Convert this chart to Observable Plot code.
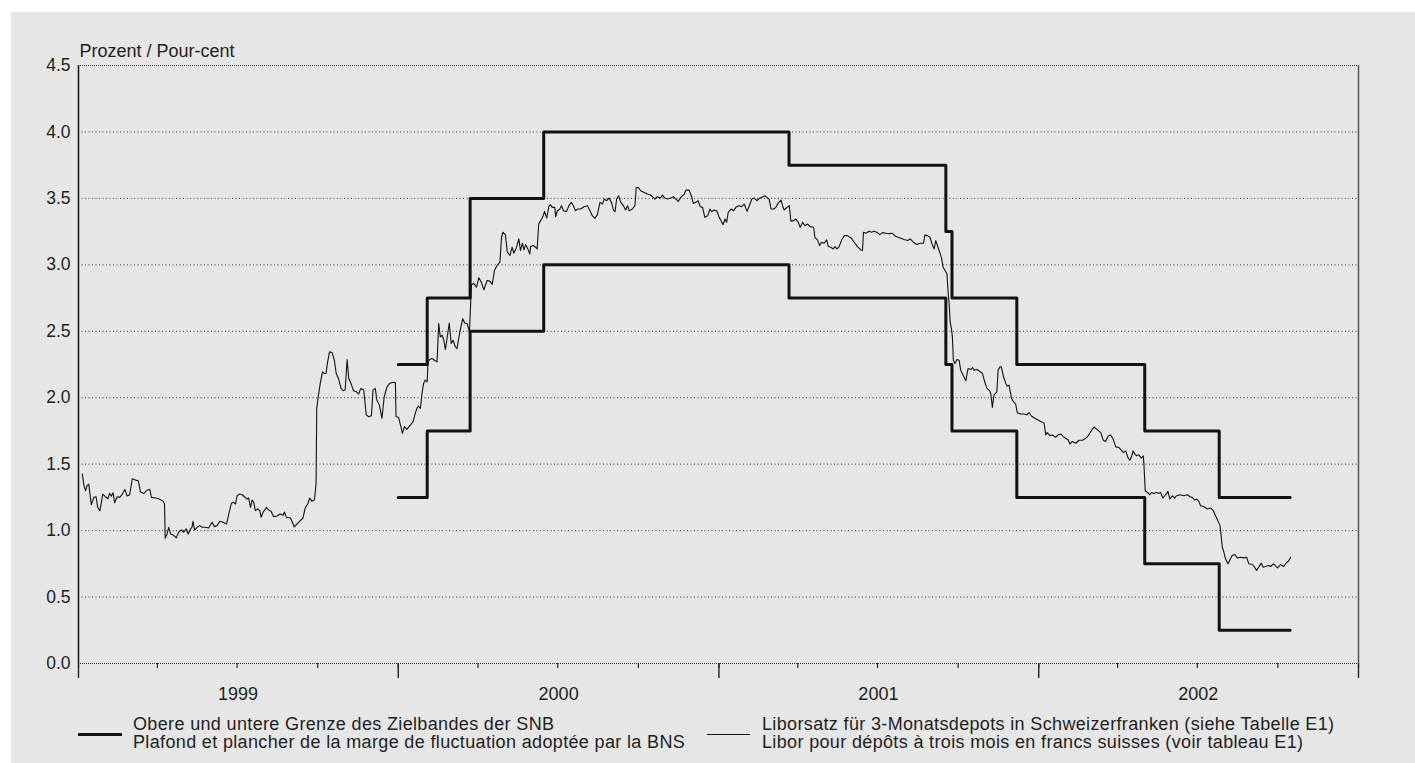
<!DOCTYPE html>
<html>
<head>
<meta charset="utf-8">
<script src="https://cdn.jsdelivr.net/npm/d3@7"></script>
<script src="https://cdn.jsdelivr.net/npm/@observablehq/plot@0.6"></script>
<style>
  html, body { margin: 0; padding: 0; background: #ffffff; }
  #panel { position: absolute; left: 11px; top: 12px; width: 1404px; height: 751px; background: #e6e6e6;
           font-family: "Liberation Sans", Arial, sans-serif; color: #1e1e1e; }
  #chart { position: absolute; left: 0; top: 0; }
  .leg { position: absolute; font-size: 18px; line-height: 18px; height: 18px; letter-spacing: 0.35px; white-space: nowrap; }
  .sym { position: absolute; border-top-style: solid; border-top-color: #111; }
</style>
</head>
<body>
<div id="panel">
  <div id="chart"></div>
  <div class="sym" style="left:67px; top:721px; width:44px; border-top-width:3px;"></div>
  <div class="leg" style="left:122px; top:703px;">Obere und untere Grenze des Zielbandes der SNB</div>
  <div class="leg" style="left:122px; top:721px;">Plafond et plancher de la marge de fluctuation adoptée par la BNS</div>
  <div class="sym" style="left:696px; top:722px; width:43px; border-top-width:1px;"></div>
  <div class="leg" style="left:751px; top:703px;">Liborsatz für 3-Monatsdepots in Schweizerfranken (siehe Tabelle E1)</div>
  <div class="leg" style="left:751px; top:721px;">Libor pour dépôts à trois mois en francs suisses (voir tableau E1)</div>
</div>
<script>
// ---------- data ----------
const yLabel = "Prozent / Pour-cent";
const yTicks = [0, 0.5, 1, 1.5, 2, 2.5, 3, 3.5, 4, 4.5];
const years = [1999, 2000, 2001, 2002];

// Target band of the SNB (dates of changes), upper and lower limits
const bandDates = ["2000-01-01", "2000-02-03", "2000-03-23", "2000-06-15", "2001-03-22", "2001-09-17",
                   "2001-09-24", "2001-12-07", "2002-05-02", "2002-07-26", "2002-10-15"];
const upperBand = [2.25, 2.75, 3.5, 4.0, 3.75, 3.25, 2.75, 2.25, 1.75, 1.25, 1.25];
const lowerBand = [1.25, 1.75, 2.5, 3.0, 2.75, 2.25, 1.75, 1.25, 0.75, 0.25, 0.25];

// 3-month CHF Libor: [decimal year, percent]
const libor = [
[1999.012,1.425],[1999.017,1.34],[1999.022,1.30],[1999.027,1.34],[1999.032,1.35],[1999.040,1.195],[1999.048,1.25],
[1999.055,1.255],[1999.060,1.175],[1999.067,1.15],[1999.076,1.275],[1999.084,1.255],[1999.092,1.24],[1999.097,1.28],
[1999.103,1.26],[1999.108,1.285],[1999.113,1.21],[1999.121,1.255],[1999.129,1.25],[1999.137,1.275],[1999.145,1.31],
[1999.152,1.26],[1999.160,1.27],[1999.168,1.39],[1999.178,1.38],[1999.187,1.375],[1999.194,1.29],[1999.204,1.28],
[1999.215,1.305],[1999.223,1.31],[1999.228,1.25],[1999.241,1.245],[1999.251,1.24],[1999.265,1.22],[1999.269,1.20],
[1999.271,0.9425],[1999.277,0.975],[1999.282,1.025],[1999.288,0.975],[1999.296,0.9675],[1999.306,0.945],[1999.313,0.9875],
[1999.322,1.005],[1999.329,0.9875],[1999.337,1.0125],[1999.343,0.975],[1999.350,1.0125],[1999.355,1.025],[1999.358,1.07],
[1999.363,1.005],[1999.371,1.025],[1999.379,1.0375],[1999.387,1.025],[1999.397,1.025],[1999.407,1.02],[1999.418,1.0625],
[1999.425,1.03],[1999.433,1.0375],[1999.442,1.07],[1999.452,1.0625],[1999.463,1.05],[1999.470,1.125],[1999.478,1.205],
[1999.485,1.2125],[1999.491,1.20],[1999.496,1.2625],[1999.503,1.275],[1999.512,1.27],[1999.519,1.255],[1999.527,1.2375],
[1999.532,1.245],[1999.538,1.175],[1999.543,1.23],[1999.548,1.2125],[1999.553,1.15],[1999.560,1.1625],[1999.567,1.15],
[1999.571,1.10],[1999.577,1.1375],[1999.588,1.175],[1999.595,1.155],[1999.602,1.145],[1999.610,1.105],[1999.621,1.11],
[1999.631,1.125],[1999.640,1.115],[1999.644,1.14],[1999.650,1.10],[1999.663,1.095],[1999.675,1.0275],[1999.688,1.0625],
[1999.702,1.095],[1999.709,1.17],[1999.717,1.2025],[1999.723,1.245],[1999.730,1.22],[1999.738,1.2325],[1999.743,1.3575],
[1999.745,1.92],[1999.749,1.995],[1999.756,2.1075],[1999.763,2.195],[1999.769,2.1825],[1999.774,2.1825],[1999.779,2.27],
[1999.785,2.345],[1999.793,2.34],[1999.800,2.2825],[1999.806,2.1825],[1999.813,2.145],[1999.821,2.07],[1999.827,2.0525],
[1999.834,2.0575],[1999.840,2.2875],[1999.845,2.145],[1999.852,2.1075],[1999.860,2.0525],[1999.869,2.045],[1999.876,2.0275],
[1999.883,2.07],[1999.892,2.0575],[1999.900,1.87],[1999.907,1.8575],[1999.916,1.865],[1999.921,2.0575],[1999.928,2.07],
[1999.933,1.9825],[1999.941,1.945],[1999.949,1.845],[1999.956,2.0075],[1999.965,2.0825],[1999.973,2.1075],[1999.980,2.115],
[1999.991,2.115],[1999.993,1.8575],[2000.001,1.8525],[2000.008,1.7825],[2000.013,1.7325],[2000.019,1.7825],[2000.027,1.7625],
[2000.038,1.795],[2000.046,1.82],[2000.053,1.8825],[2000.058,1.92],[2000.063,1.9375],[2000.069,1.92],[2000.074,2.0325],
[2000.079,2.1075],[2000.084,2.1325],[2000.090,2.12],[2000.093,2.27],[2000.098,2.2875],[2000.105,2.295],[2000.113,2.2825],
[2000.121,2.27],[2000.126,2.5575],[2000.131,2.4575],[2000.137,2.47],[2000.142,2.4325],[2000.147,2.3625],[2000.152,2.445],
[2000.159,2.5625],[2000.165,2.4075],[2000.171,2.4325],[2000.178,2.3825],[2000.183,2.37],[2000.192,2.495],[2000.201,2.595],
[2000.207,2.5625],[2000.215,2.5575],[2000.222,2.495],[2000.228,2.85],[2000.235,2.86],[2000.244,2.8325],[2000.251,2.9025],
[2000.259,2.87],[2000.267,2.8125],[2000.277,2.8825],[2000.285,2.8775],[2000.293,2.8525],[2000.300,2.9575],[2000.308,2.995],
[2000.317,3.02],[2000.322,3.2075],[2000.326,3.245],[2000.334,3.2275],[2000.340,3.095],[2000.348,3.07],[2000.355,3.1325],
[2000.360,3.0875],[2000.368,3.1275],[2000.376,3.195],[2000.381,3.1075],[2000.387,3.1625],[2000.392,3.1125],[2000.397,3.1525],
[2000.404,3.12],[2000.410,3.0825],[2000.413,3.1375],[2000.421,3.145],[2000.428,3.1325],[2000.433,3.12],[2000.438,3.3075],
[2000.444,3.3325],[2000.452,3.37],[2000.456,3.4025],[2000.463,3.3525],[2000.470,3.445],[2000.475,3.4525],[2000.480,3.4325],
[2000.488,3.4325],[2000.491,3.3625],[2000.496,3.4075],[2000.504,3.42],[2000.509,3.445],[2000.515,3.4075],[2000.525,3.4025],
[2000.532,3.445],[2000.540,3.47],[2000.546,3.445],[2000.553,3.4075],[2000.560,3.42],[2000.569,3.42],[2000.579,3.4375],
[2000.590,3.445],[2000.598,3.4075],[2000.605,3.37],[2000.613,3.35],[2000.621,3.3775],[2000.629,3.47],[2000.637,3.4575],
[2000.642,3.495],[2000.650,3.4825],[2000.657,3.5025],[2000.665,3.47],[2000.671,3.4125],[2000.676,3.40],[2000.681,3.495],
[2000.687,3.52],[2000.694,3.47],[2000.702,3.445],[2000.709,3.4125],[2000.715,3.445],[2000.720,3.4075],[2000.730,3.42],
[2000.738,3.445],[2000.742,3.5825],[2000.748,3.5825],[2000.756,3.5575],[2000.767,3.545],[2000.777,3.5325],[2000.785,3.5275],
[2000.793,3.5125],[2000.800,3.495],[2000.808,3.5125],[2000.817,3.5025],[2000.824,3.525],[2000.831,3.5025],[2000.840,3.495],
[2000.850,3.5025],[2000.858,3.5125],[2000.866,3.495],[2000.873,3.4775],[2000.881,3.5075],[2000.892,3.5325],[2000.897,3.5625],
[2000.907,3.5625],[2000.915,3.5125],[2000.920,3.4625],[2000.928,3.47],[2000.935,3.4825],[2000.942,3.4375],[2000.949,3.4325],
[2000.956,3.3575],[2000.965,3.37],[2000.972,3.42],[2000.977,3.40],[2000.985,3.4125],[2000.993,3.4075],[2001.001,3.3575],
[2001.008,3.325],[2001.013,3.3025],[2001.019,3.345],[2001.024,3.32],[2001.029,3.395],[2001.038,3.42],[2001.046,3.4075],
[2001.053,3.4325],[2001.063,3.445],[2001.071,3.4375],[2001.079,3.4575],[2001.088,3.4025],[2001.095,3.445],[2001.103,3.495],
[2001.110,3.5025],[2001.119,3.4825],[2001.126,3.50],[2001.137,3.5125],[2001.144,3.52],[2001.152,3.5025],[2001.157,3.495],
[2001.163,3.42],[2001.171,3.42],[2001.178,3.4325],[2001.185,3.4625],[2001.194,3.4875],[2001.199,3.445],[2001.204,3.4125],
[2001.213,3.4325],[2001.220,3.445],[2001.225,3.3275],[2001.233,3.3325],[2001.241,3.345],[2001.248,3.32],[2001.254,3.2825],
[2001.262,3.32],[2001.269,3.295],[2001.277,3.3075],[2001.285,3.2875],[2001.296,3.2825],[2001.300,3.2075],[2001.308,3.1875],
[2001.315,3.145],[2001.321,3.17],[2001.329,3.1625],[2001.337,3.1875],[2001.342,3.1375],[2001.350,3.1325],[2001.357,3.12],
[2001.363,3.1375],[2001.369,3.12],[2001.376,3.1375],[2001.383,3.1825],[2001.392,3.22],[2001.402,3.22],[2001.413,3.2025],
[2001.423,3.17],[2001.433,3.1375],[2001.444,3.1125],[2001.449,3.1075],[2001.452,3.245],[2001.459,3.2375],[2001.470,3.2525],
[2001.477,3.245],[2001.485,3.2525],[2001.496,3.2425],[2001.503,3.2275],[2001.512,3.2425],[2001.522,3.2375],[2001.532,3.235],
[2001.543,3.2375],[2001.553,3.2125],[2001.567,3.2025],[2001.579,3.19],[2001.590,3.1825],[2001.598,3.195],[2001.608,3.17],
[2001.619,3.1525],[2001.629,3.1625],[2001.640,3.1625],[2001.644,3.225],[2001.652,3.22],[2001.660,3.2075],[2001.668,3.145],
[2001.673,3.12],[2001.678,3.1825],[2001.685,3.1325],[2001.692,3.0825],[2001.696,3.0525],[2001.701,2.9825],[2001.707,2.9575],
[2001.713,2.9325],[2001.717,2.7825],[2001.720,2.7075],[2001.723,2.57],[2001.727,2.52],[2001.730,2.4575],[2001.733,2.2825],
[2001.738,2.2575],[2001.744,2.2875],[2001.751,2.2825],[2001.756,2.2075],[2001.765,2.1625],[2001.772,2.1275],[2001.779,2.22],
[2001.788,2.2125],[2001.793,2.2275],[2001.798,2.2075],[2001.808,2.2125],[2001.817,2.195],[2001.824,2.1825],[2001.831,2.12],
[2001.838,2.07],[2001.845,2.0575],[2001.850,2.0325],[2001.855,1.9275],[2001.860,2.02],[2001.869,2.045],[2001.873,2.2075],
[2001.879,2.2325],[2001.883,2.2325],[2001.890,2.1575],[2001.897,2.1075],[2001.902,2.0875],[2001.907,2.095],[2001.915,1.995],
[2001.921,1.97],[2001.928,1.9525],[2001.933,1.8875],[2001.944,1.8775],[2001.954,1.8775],[2001.963,1.87],[2001.970,1.8875],
[2001.977,1.8625],[2001.988,1.845],[2001.998,1.8325],[2002.008,1.82],[2002.017,1.8075],[2002.022,1.72],[2002.027,1.7375],
[2002.035,1.715],[2002.043,1.72],[2002.053,1.7025],[2002.060,1.72],[2002.069,1.7275],[2002.077,1.7075],[2002.084,1.695],
[2002.092,1.6825],[2002.098,1.6525],[2002.105,1.67],[2002.116,1.6575],[2002.126,1.68],[2002.137,1.68],[2002.144,1.69],
[2002.152,1.705],[2002.160,1.735],[2002.173,1.78],[2002.183,1.76],[2002.194,1.7375],[2002.202,1.68],[2002.209,1.67],
[2002.217,1.7125],[2002.225,1.72],[2002.233,1.6875],[2002.241,1.63],[2002.251,1.625],[2002.258,1.605],[2002.265,1.5875],
[2002.272,1.60],[2002.279,1.55],[2002.285,1.53],[2002.290,1.555],[2002.295,1.60],[2002.301,1.575],[2002.306,1.5625],
[2002.313,1.57],[2002.321,1.545],[2002.327,1.5625],[2002.329,1.50],[2002.333,1.30],[2002.340,1.2875],[2002.347,1.27],
[2002.353,1.2875],[2002.360,1.28],[2002.369,1.2875],[2002.376,1.28],[2002.381,1.2875],[2002.388,1.245],[2002.394,1.2625],
[2002.400,1.28],[2002.404,1.295],[2002.410,1.2375],[2002.418,1.2625],[2002.425,1.245],[2002.431,1.2625],[2002.442,1.27],
[2002.454,1.2625],[2002.465,1.27],[2002.473,1.255],[2002.480,1.25],[2002.488,1.23],[2002.494,1.2375],[2002.501,1.22],
[2002.506,1.1875],[2002.517,1.18],[2002.527,1.1625],[2002.538,1.17],[2002.546,1.15],[2002.553,1.1125],[2002.560,1.075],
[2002.567,1.0375],[2002.571,0.95],[2002.574,0.875],[2002.579,0.8375],[2002.584,0.7875],[2002.592,0.75],[2002.598,0.78],
[2002.605,0.8125],[2002.613,0.82],[2002.621,0.795],[2002.631,0.80],[2002.642,0.795],[2002.650,0.80],[2002.657,0.75],
[2002.668,0.745],[2002.675,0.725],[2002.681,0.70],[2002.688,0.725],[2002.696,0.755],[2002.702,0.725],[2002.709,0.73],
[2002.720,0.7375],[2002.725,0.73],[2002.734,0.75],[2002.747,0.72],[2002.756,0.745],[2002.766,0.73],[2002.775,0.76],
[2002.781,0.77],[2002.788,0.80]
];

// ---------- build ----------
const toDate = t => { const y = Math.floor(t); const a = Date.UTC(y, 0, 1), b = Date.UTC(y + 1, 0, 1); return new Date(a + (t - y) * (b - a)); };
const parse = d3.utcParse("%Y-%m-%d");
const liborRows = libor.map(([t, v]) => ({date: toDate(t), value: v}));
const bandRows = [
  ...bandDates.map((d, i) => ({date: parse(d), value: upperBand[i], side: "upper"})),
  ...bandDates.map((d, i) => ({date: parse(d), value: lowerBand[i], side: "lower"}))
];
const x0 = new Date(Date.UTC(years[0], 0, 1));
const x1 = new Date(Date.UTC(years[years.length - 1] + 1, 0, 1));
const quarterTicks = d3.utcMonth.every(3).range(x0, new Date(+x1 + 1));
const yearTicks = d3.utcYear.range(x0, new Date(+x1 + 1));
const midYears = years.map(y => new Date(Date.UTC(y, 6, 2)));

const chart = Plot.plot({
  width: 1404,
  height: 700,
  marginLeft: 67,
  marginRight: 57,
  marginTop: 53,
  marginBottom: 49,
  style: {background: "transparent", fontFamily: "'Liberation Sans', Arial, sans-serif", color: "#1e1e1e", overflow: "visible"},
  x: {type: "utc", domain: [x0, x1]},
  y: {domain: [0, 4.5]},
  marks: [
    Plot.gridY({ticks: yTicks.filter(v => v > 0 && v < 4.5), stroke: "#333", strokeOpacity: 1, strokeDasharray: "1 2.5"}),
    Plot.ruleY([0, 4.5], {stroke: "#333", strokeDasharray: "1 1"}),
    Plot.ruleX([x0], {stroke: "#111", strokeWidth: 1.5}),
    Plot.ruleX([x1], {stroke: "#555", strokeWidth: 1.5}),
    Plot.axisY({ticks: yTicks, tickSize: 0, tickPadding: 8, tickFormat: d3.format(".1f"), label: null, fontSize: 17.5}),
    Plot.axisX({ticks: quarterTicks, tickSize: 5, tickFormat: () => "", label: null, stroke: "#222", strokeWidth: 1.2}),
    Plot.axisX({ticks: yearTicks, tickSize: 15, tickFormat: () => "", label: null, stroke: "#222", strokeWidth: 1.4}),
    Plot.axisX({ticks: midYears, tickSize: 0, tickPadding: 24, tickFormat: d3.utcFormat("%Y"), label: null, fontSize: 18}),
    Plot.text([yLabel], {frameAnchor: "top-left", text: d => d, textAnchor: "start", dx: 1, dy: -21, fontSize: 18, fill: "#1e1e1e"}),
    Plot.line(liborRows, {x: "date", y: "value", stroke: "#111", strokeWidth: 1.1}),
    Plot.line(bandRows, {x: "date", y: "value", z: "side", curve: "step-after", stroke: "#111", strokeWidth: 3})
  ]
});
document.getElementById("chart").appendChild(chart);
</script>
</body>
</html>
